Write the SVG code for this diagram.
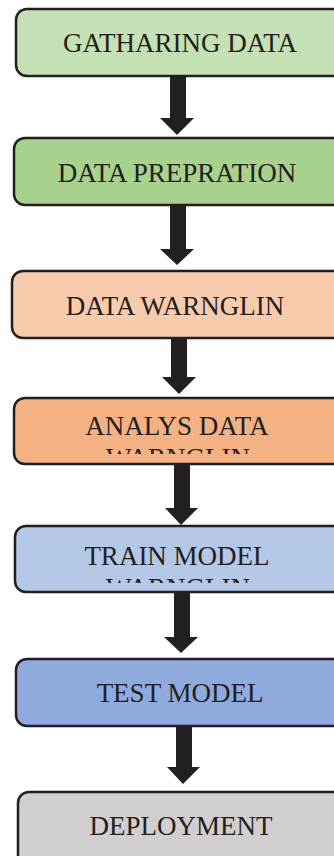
<svg xmlns="http://www.w3.org/2000/svg" width="334" height="856" viewBox="0 0 334 856">
<style>
.box{stroke:#231f20;stroke-width:2.5}
.t{font-family:"Liberation Serif","Times New Roman",serif;font-size:27px;fill:#231f20;text-anchor:middle}
.arr{fill:#231f20}
</style>
<defs>
<clipPath id="c4"><rect x="0" y="400" width="334" height="54"/></clipPath>
<clipPath id="c5"><rect x="0" y="528" width="334" height="55"/></clipPath>
</defs>
<rect width="334" height="856" fill="#ffffff"/>
<g id="connectors">
<polygon class="arr" points="170,77 186,77 186,118 194,118 177,135 160,118 170,118"/>
<polygon class="arr" points="170,206 186,206 186,249 194,249 177,265 160,249 170,249"/>
<polygon class="arr" points="171,339 187,339 187,377 196,377 179,394 162,377 171,377"/>
<polygon class="arr" points="174,465 190,465 190,508 198,508 181,525 165,508 174,508"/>
<polygon class="arr" points="174,593 190,593 190,637 198,637 181,653 164,637 174,637"/>
<polygon class="arr" points="176,727 192,727 192,767 200,767 183,784 167,767 176,767"/>
</g>
<g id="n1"><rect class="box" x="16" y="9" width="340" height="67" rx="11" fill="#c5e0b4"/><text class="t" x="180" y="52">GATHARING DATA</text></g>
<g id="n2"><rect class="box" x="14" y="138" width="340" height="67" rx="11" fill="#a9d18e"/><text class="t" x="177" y="182">DATA PREPRATION</text></g>
<g id="n3"><rect class="box" x="12" y="271" width="340" height="67" rx="11" fill="#f8cbad"/><text class="t" x="175" y="315">DATA WARNGLIN</text></g>
<g id="n4"><rect class="box" x="14" y="398" width="340" height="66" rx="11" fill="#f4b183"/><text class="t" x="177" y="435">ANALYS DATA</text><text class="t" x="178" y="467" clip-path="url(#c4)">WARNGLIN</text></g>
<g id="n5"><rect class="box" x="15" y="526" width="340" height="66" rx="11" fill="#b4c7e7"/><text class="t" x="177" y="565">TRAIN MODEL</text><text class="t" x="178" y="597" clip-path="url(#c5)">WARNGLIN</text></g>
<g id="n6"><rect class="box" x="16" y="659" width="340" height="67" rx="11" fill="#8faadc"/><text class="t" x="180" y="702">TEST MODEL</text></g>
<g id="n7"><rect class="box" x="18" y="792" width="340" height="80" rx="11" fill="#d0cece"/><text class="t" x="181" y="835">DEPLOYMENT</text></g>
</svg>
